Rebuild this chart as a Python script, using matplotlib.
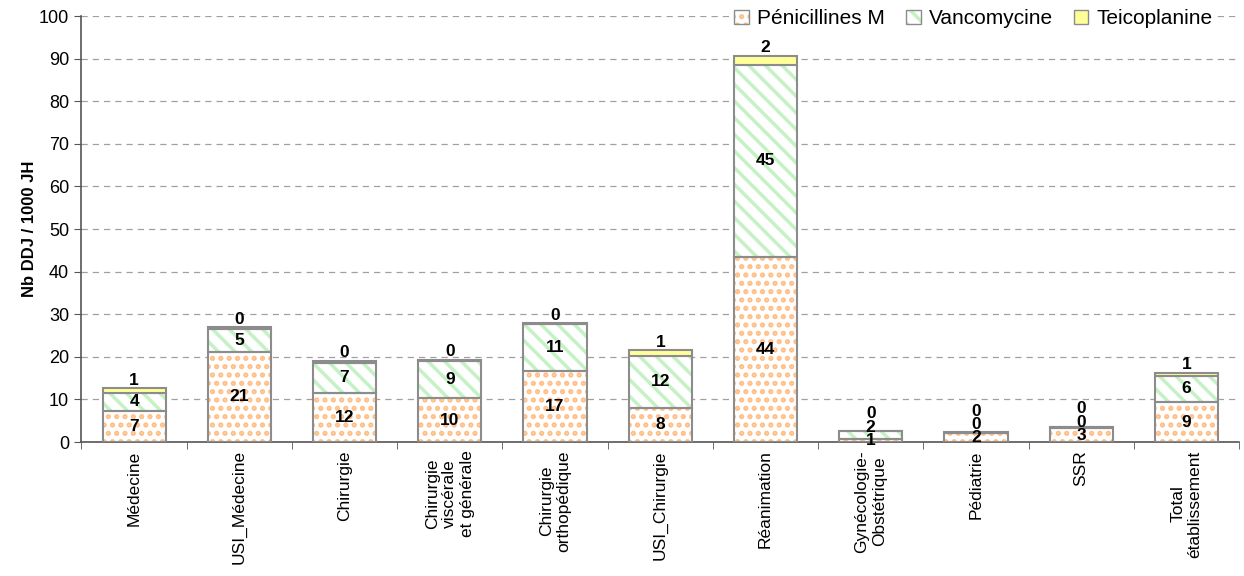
import matplotlib
matplotlib.use("Agg")
import matplotlib.pyplot as plt
import numpy as np
from matplotlib.patches import Patch
from matplotlib.legend_handler import HandlerTuple

categories = ["Médecine", "USI_Médecine", "Chirurgie", "Chirurgie\nviscérale\net générale",
              "Chirurgie\northopédique", "USI_Chirurgie", "Réanimation", "Gynécologie-\nObstétrique",
              "Pédiatrie", "SSR", "Total\nétablissement"]
penicillines = [7.3, 21.2, 11.5, 10.3, 16.6, 8.1, 43.5, 0.8, 2.1, 3.2, 9.4]
vancomycine = [4.3, 5.4, 7.1, 8.7, 11.0, 12.0, 45.0, 1.8, 0.1, 0.3, 6.2]
teicoplanine = [1.0, 0.3, 0.4, 0.3, 0.3, 1.4, 2.2, 0.1, 0.05, 0.1, 0.6]
yticks = list(range(0, 101, 10))

plt.rcParams['font.family'] = ['Liberation Sans', 'DejaVu Sans']
plt.rcParams['hatch.linewidth'] = 2.5

fig = plt.figure(figsize=(12.44, 5.76), dpi=100)
ax = fig.add_axes([0.0655, 0.2326, 0.9305, 0.7395])

x = np.arange(len(categories))
w = 0.6
pen = np.array(penicillines)
van = np.array(vancomycine)
tei = np.array(teicoplanine)
edge = '#8c8c8c'
pen_col = '#FFBE85'
van_col = '#C4F2C4'

# Penicillines M : orange dots
ax.bar(x, pen, w, color='white', edgecolor=pen_col, hatch='..', linewidth=0, zorder=2)
ax.bar(x, pen, w, color='none', edgecolor=edge, linewidth=1.5, zorder=3)
# Vancomycine : green diagonal stripes
ax.bar(x, van, w, bottom=pen, color='white', edgecolor=van_col, hatch='\\\\', linewidth=0, zorder=2)
ax.bar(x, van, w, bottom=pen, color='none', edgecolor=edge, linewidth=1.5, zorder=3)
# Teicoplanine : yellow
ax.bar(x, tei, w, bottom=pen + van, color='#FFFF99', edgecolor=edge, linewidth=1.5, zorder=3)

# legend
frame = dict(facecolor='none', edgecolor=edge, linewidth=1.0)
handles = [(Patch(facecolor='white', edgecolor=pen_col, hatch='..', linewidth=0), Patch(**frame)),
           (Patch(facecolor='white', edgecolor=van_col, hatch='\\\\', linewidth=0), Patch(**frame)),
           Patch(facecolor='#FFFF99', edgecolor=edge, linewidth=1.0)]
labels = ['Pénicillines M', 'Vancomycine', 'Teicoplanine']
leg = ax.legend(handles=handles, labels=labels, loc='upper right', ncol=3, frameon=True, fontsize=15,
                bbox_to_anchor=(0.99, 1.05), handlelength=0.7, handleheight=0.7,
                handletextpad=0.4, columnspacing=1.0, borderpad=0.2,
                handler_map={tuple: HandlerTuple(ndivide=1, pad=0)})
leg.get_frame().set_facecolor('white')
leg.get_frame().set_edgecolor('none')
leg.get_frame().set_alpha(1)
leg.set_zorder(5)

# data labels (spread apart when segments are too thin)
for i in range(len(x)):
    y_pen = pen[i] / 2
    y_van = max(pen[i] + van[i] / 2, y_pen + 3.1)
    y_tei = max(pen[i] + van[i] + tei[i] + 1.9, y_van + 3.1)
    for yy, v in ((y_pen, pen[i]), (y_van, van[i]), (y_tei, tei[i])):
        ax.text(x[i], yy, f"{v:.0f}", ha='center', va='center', fontsize=12.5,
                fontweight='bold', zorder=6)

ax.set_xlim(-0.5, len(categories) - 0.5)
ax.set_ylim(0, 100)
ax.set_yticks(yticks)
ax.set_yticklabels([str(t) for t in yticks], fontsize=13)
ax.yaxis.grid(True, linestyle=(0, (5, 4)), color='#a0a0a0', linewidth=0.9, zorder=0)
ax.set_axisbelow(True)

ax.set_xticks(x)
ax.set_xticklabels(categories, rotation=90, fontsize=12.5, va='top', ha='center',
                   multialignment='center')
ax.tick_params(axis='x', which='major', length=0, pad=6)
ax.set_xticks(np.arange(-0.5, len(categories) + 0.5, 1), minor=True)
ax.tick_params(axis='x', which='minor', length=5, direction='out', color='#555555')
ax.tick_params(axis='y', length=5, direction='out', color='#555555', pad=4)

for s in ['top', 'right']:
    ax.spines[s].set_visible(False)
for s in ['left', 'bottom']:
    ax.spines[s].set_color('#555555')
    ax.spines[s].set_linewidth(1.2)

ax.set_ylabel('Nb DDJ / 1000 JH', fontsize=12, fontweight='bold', labelpad=1)

fig.savefig('out.png', dpi=100)
